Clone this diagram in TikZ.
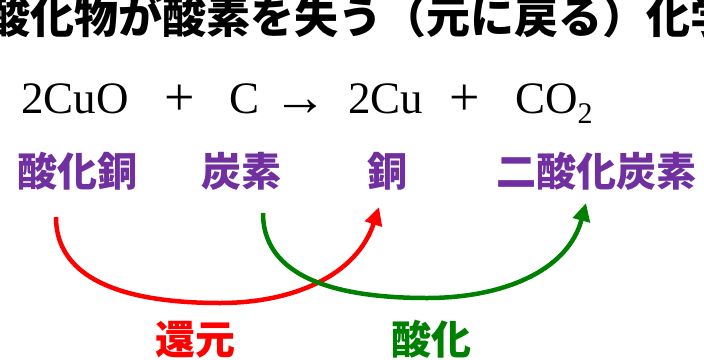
\documentclass[tikz,border=0pt]{standalone}
\usepackage{fontspec}
\setmainfont{Liberation Serif}
\newfontfamily\jp{Noto Sans CJK JP}
\usetikzlibrary{arrows.meta,positioning}
\definecolor{reduct}{RGB}{255,0,0}
\definecolor{oxid}{RGB}{0,128,0}
\definecolor{substance}{RGB}{112,48,160}
\newcommand{\lowtwo}{\raisebox{-10pt}{\fontsize{30}{30}\selectfont 2}}

\begin{document}
\begin{tikzpicture}[x=1pt, y=1pt,
        headline/.style={font=\jp\bfseries\fontsize{44}{50}\selectfont, inner sep=0pt, anchor=west},
        chem/.style={font=\fontsize{45}{50}\selectfont, inner sep=0pt, anchor=base west},
        op/.style={font=\fontsize{54}{60}\selectfont, inner sep=0pt, anchor=base},
        substname/.style={font=\jp\bfseries\fontsize{40}{48}\selectfont, text=substance, inner sep=0pt},
        react/.style={font=\jp\bfseries\fontsize{40}{48}\selectfont, inner sep=0pt},
        arrow/.style={-{Triangle[length=18pt,width=17pt]}, line width=4.5pt}
    ]
        \useasboundingbox (0,0) rectangle (704,-359);

        % title (cut at both sides)
        \node[headline] (head) at (-14,-16) {酸化物が酸素を失う（元に戻る）化学};

        % equation
        \node[chem] (cuo) at (21,-113) {2CuO};
        \node[op] (plus1) at (180,-115) {+};
        \node[chem, anchor=base] (c) at (245,-113) {C};
        \node[op] (to) at (300,-115) {→};
        \node[chem] (cu) at (348,-113) {2Cu};
        \node[op] (plus2) at (465,-115) {+};
        \node[chem] (co2) at (515,-113) {CO\lowtwo};

        % names
        \node[substname] (ncuo) at (77.5,-171.5) {酸化銅};
        \node[substname] (nc) at (241.5,-171.5) {炭素};
        \node[substname] (ncu) at (387,-171.5) {銅};
        \node[substname] (nco2) at (596,-171.5) {二酸化炭素};

        % arcs
        \coordinate (redS) at (56,-217);
        \coordinate (redB) at (220,-303);
        \coordinate (redE) at (379,-207);
        \coordinate (grnS) at (263,-213);
        \coordinate (grnB) at (427,-298);
        \coordinate (grnE) at (586,-203);
        \draw[arrow, reduct] (redS) to[out=-90,in=180] (redB) to[out=0,in=-108] (redE);
        \draw[arrow, oxid] (grnS) to[out=-90,in=180] (grnB) to[out=0,in=-105] (grnE);

        \node[react, text=reduct] (red) at (195.5,-339.5) {還元};
        \node[react, text=oxid] (ox) at (431,-339.5) {酸化};
    \end{tikzpicture}
\end{document}
